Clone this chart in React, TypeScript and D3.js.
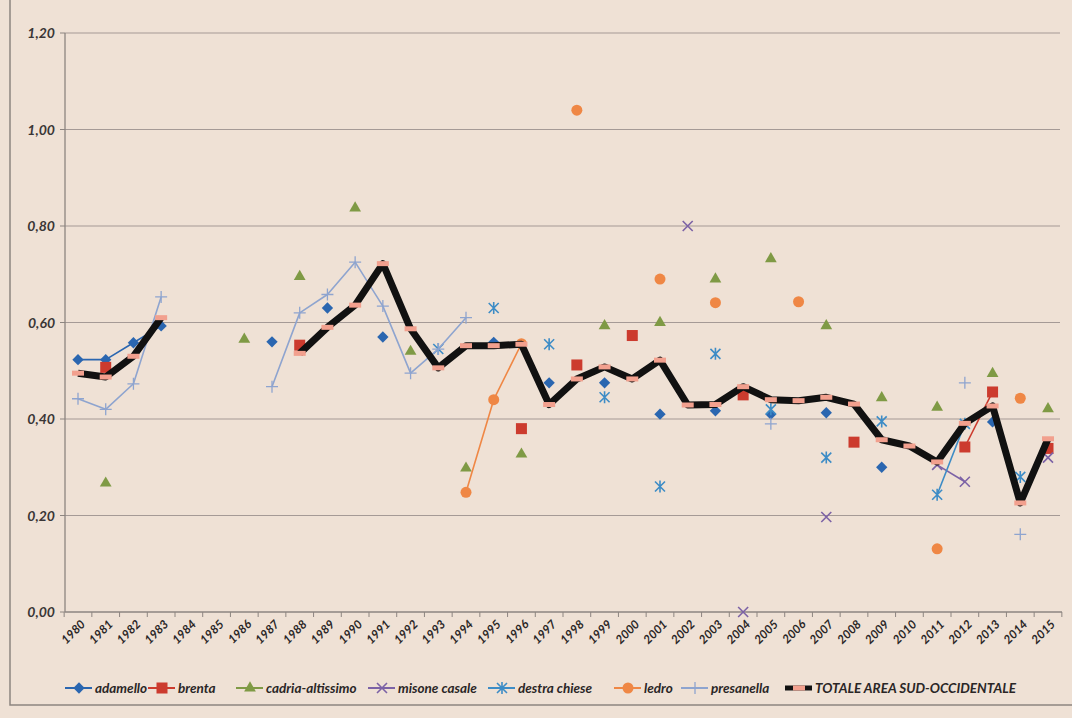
import React from "react";
import * as d3 from "d3";

const years: number[] = [];
for (let y = 1980; y <= 2015; y++) years.push(y);

type V = number | null;
const n = null;
// values indexed 1980..2015
const adamello: V[] = [0.523, 0.523, 0.558, 0.593, n, n, n, 0.56, n, 0.63, n, 0.57, n, n, n, 0.559, n, 0.475, n, 0.475, n, 0.41, n, 0.417, n, 0.41, n, 0.413, n, 0.30, n, n, n, 0.394, n, n];
const brenta: V[] = [n, 0.507, n, n, n, n, n, n, 0.553, n, n, n, n, n, n, n, 0.38, n, 0.512, n, 0.573, n, n, n, 0.45, n, n, n, 0.352, n, n, n, 0.342, 0.456, n, 0.339];
const cadria: V[] = [n, 0.267, n, n, n, n, 0.565, n, 0.695, n, 0.837, n, 0.54, n, 0.298, n, 0.327, n, n, 0.593, n, 0.60, n, 0.69, n, 0.732, n, 0.593, n, 0.444, n, 0.424, n, 0.494, n, 0.421];
const misone: V[] = [n, n, n, n, n, n, n, n, n, n, n, n, n, n, n, n, n, n, n, n, n, n, 0.80, n, 0.0, n, n, 0.197, n, n, n, 0.305, 0.27, n, n, 0.32];
const destra: V[] = [n, n, n, n, n, n, n, n, n, n, n, n, n, 0.545, n, 0.63, n, 0.555, n, 0.445, n, 0.26, n, 0.535, n, 0.42, n, 0.32, n, 0.395, n, 0.243, 0.39, n, 0.28, n];
const ledro: V[] = [n, n, n, n, n, n, n, n, n, n, n, n, n, n, 0.248, 0.44, 0.556, n, 1.04, n, n, 0.69, n, 0.641, n, n, 0.643, n, n, n, n, 0.131, n, n, 0.443, n];
const presanella: V[] = [0.442, 0.42, 0.473, 0.653, n, n, n, 0.467, 0.62, 0.658, 0.725, 0.634, 0.495, 0.545, 0.61, n, n, n, n, n, n, n, n, n, n, 0.39, n, n, n, n, n, n, 0.475, n, 0.161, n];
const totale: V[] = [0.495, 0.487, 0.53, 0.61, n, n, n, n, 0.536, 0.59, 0.636, 0.722, 0.587, 0.506, 0.552, 0.552, 0.555, 0.43, 0.483, 0.508, 0.483, 0.522, 0.429, 0.43, 0.467, 0.44, 0.438, 0.445, 0.431, 0.357, 0.344, 0.311, 0.391, 0.427, 0.226, 0.359];

const yTicks = [0, 0.2, 0.4, 0.6, 0.8, 1.0, 1.2];

type Marker = "diamond" | "square" | "triangle" | "cross" | "star" | "circle" | "plus" | "dash";
interface Series { name: string; values: V[]; color: string; marker: Marker; mcolor: string; width: number; }

const series: Series[] = [
  { name: "adamello", values: adamello, color: "#2a66b0", marker: "diamond", mcolor: "#2a66b0", width: 1.6 },
  { name: "brenta", values: brenta, color: "#cc3b2e", marker: "square", mcolor: "#cc3b2e", width: 1.6 },
  { name: "cadria-altissimo", values: cadria, color: "#7f9a45", marker: "triangle", mcolor: "#7f9a45", width: 1.6 },
  { name: "misone casale", values: misone, color: "#7c62a6", marker: "cross", mcolor: "#7c62a6", width: 1.6 },
  { name: "destra chiese", values: destra, color: "#3d8cc6", marker: "star", mcolor: "#3d8cc6", width: 1.6 },
  { name: "ledro", values: ledro, color: "#ef8745", marker: "circle", mcolor: "#ef8745", width: 1.6 },
  { name: "presanella", values: presanella, color: "#8ea4cf", marker: "plus", mcolor: "#8ea4cf", width: 1.6 },
  { name: "TOTALE AREA SUD-OCCIDENTALE", values: totale, color: "#111111", marker: "dash", mcolor: "#f2a08e", width: 7 },
];

const legendTextX = [95, 178, 266, 398, 518, 644, 711, 815];

function markerEl(m: Marker, cx: number, cy: number, color: string, key: string) {
  switch (m) {
    case "diamond":
      return <rect key={key} x={cx - 4} y={cy - 4} width={8} height={8} fill={color} transform={`rotate(45,${cx},${cy})`} />;
    case "square":
      return <rect key={key} x={cx - 5.5} y={cy - 5.5} width={11} height={11} fill={color} />;
    case "triangle":
      return <path key={key} d={d3.symbol(d3.symbolTriangle, 60)()!} transform={`translate(${cx},${cy})`} fill={color} />;
    case "circle":
      return <circle key={key} cx={cx} cy={cy} r={5.5} fill={color} />;
    case "cross":
      return <path key={key} d={`M${cx - 5},${cy - 5}L${cx + 5},${cy + 5}M${cx - 5},${cy + 5}L${cx + 5},${cy - 5}`} stroke={color} strokeWidth={1.6} fill="none" />;
    case "star":
      return <path key={key} d={`M${cx - 5},${cy - 5}L${cx + 5},${cy + 5}M${cx - 5},${cy + 5}L${cx + 5},${cy - 5}M${cx},${cy - 6}L${cx},${cy + 6}`} stroke={color} strokeWidth={1.6} fill="none" />;
    case "plus":
      return <path key={key} d={`M${cx - 6},${cy}L${cx + 6},${cy}M${cx},${cy - 6}L${cx},${cy + 6}`} stroke={color} strokeWidth={1.3} fill="none" />;
    case "dash":
      return <rect key={key} x={cx - 6} y={cy - 2.5} width={12} height={5} fill={color} />;
  }
}

export default function App() {
  const W = 1072, H = 718;
  const x = d3.scalePoint<number>().domain(years).range([78, 1048]);
  const y = d3.scaleLinear().domain([0, 1.2]).range([612, 33]);
  const font = "Lato, 'Open Sans', sans-serif";

  const lineGen = d3.line<V>()
    .defined((d) => d !== null)
    .x((_, i) => x(years[i])!)
    .y((d) => y(d as number));

  return (
    <svg width={W} height={H} style={{ position: "absolute", left: 0, top: 0, background: "#efe1d5" }} fontFamily={font}>
      <rect x={0} y={0} width={W} height={H} fill="#efe1d5" />
      {/* chart frame */}
      <path d={`M10,0L10,705L1072,705`} stroke="#8d8580" strokeWidth={1.5} fill="none" />
      {/* gridlines */}
      {yTicks.map((t) => (
        <g key={t}>
          {t > 0 && <line x1={65} x2={1060} y1={y(t)} y2={y(t)} stroke="#a59a96" strokeWidth={1.2} />}
          <line x1={60} x2={65} y1={y(t)} y2={y(t)} stroke="#8d8580" strokeWidth={1} />
          <text x={55} y={y(t) + 5} textAnchor="end" fontSize={14} fontWeight="bold" fontStyle="italic" fill="#3a3636">
            {t.toFixed(2).replace(".", ",")}
          </text>
        </g>
      ))}
      {/* axes */}
      <line x1={65} x2={65} y1={y(1.2)} y2={y(0)} stroke="#8d8580" strokeWidth={1.3} />
      <line x1={65} x2={1062} y1={y(0)} y2={y(0)} stroke="#8d8580" strokeWidth={1.3} />
      {years.map((yr) => {
        const tx = x(yr)! - x.step() / 2;
        return <line key={"t" + yr} x1={tx} x2={tx} y1={y(0)} y2={y(0) + 5} stroke="#8d8580" strokeWidth={1} />;
      })}
      <line x1={x(2015)! + x.step() / 2} x2={x(2015)! + x.step() / 2} y1={y(0)} y2={y(0) + 5} stroke="#8d8580" strokeWidth={1} />
      {years.map((yr) => (
        <text key={"l" + yr} transform={`translate(${x(yr)! + 8},${625}) rotate(-45)`} textAnchor="end" fontSize={12} fontWeight="bold" fontStyle="italic" fill="#2a2626">
          {yr}
        </text>
      ))}
      {/* series */}
      {series.map((s) => (
        <g key={s.name}>
          <path d={lineGen(s.values) || ""} fill="none" stroke={s.color} strokeWidth={s.width} strokeLinejoin="round" />
          {s.values.map((v, i) => (v === null ? null : markerEl(s.marker, x(years[i])!, y(v), s.mcolor, s.name + i)))}
        </g>
      ))}
      {/* legend */}
      {series.map((s, i) => {
        const tx = legendTextX[i];
        const ly = 688;
        return (
          <g key={"lg" + s.name}>
            <line x1={tx - 30} x2={tx - 3} y1={ly} y2={ly} stroke={s.color} strokeWidth={s.width > 5 ? 5 : 2} />
            {markerEl(s.marker, tx - 16, ly, s.mcolor, "lm" + i)}
            <text x={tx} y={ly + 4.5} fontSize={13.5} fontWeight="bold" fontStyle="italic" fill="#2a2626">
              {s.name}
            </text>
          </g>
        );
      })}
    </svg>
  );
}
